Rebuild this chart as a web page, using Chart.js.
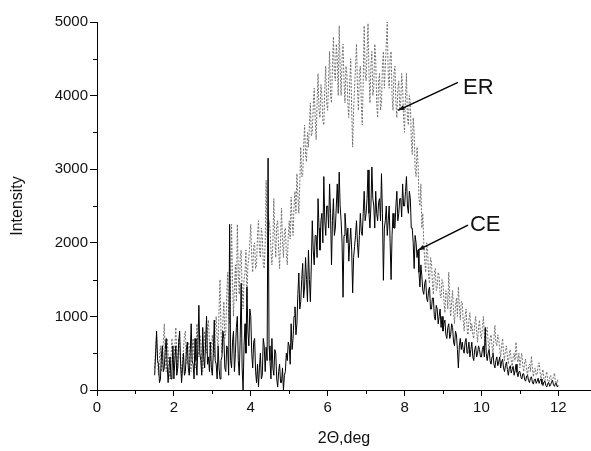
<!DOCTYPE html>
<html>
<head>
<meta charset="utf-8">
<script src="https://cdn.jsdelivr.net/npm/chart.js@4/dist/chart.umd.min.js"></script>
<style>
  html, body { margin: 0; padding: 0; background: #fff; }
  #wrap { width: 591px; height: 451px; }
</style>
</head>
<body>
<div id="wrap"><canvas id="xrdChart"></canvas></div>
<script>
// 2-theta sampling grid (deg)
const twoThetaStart = 1.5;
const twoThetaStep = 0.025;

// ER intensity (grey dotted trace), 20 points per 0.5 deg
const erIntensity = [
    300, 550, 750, 400, 200, 450, 600, 250, 350, 650,
    900, 500, 250, 700, 500, 300, 150, 450, 700, 350,
    400, 600, 850, 500, 300, 700, 650, 350, 200, 450,
    550, 750, 800, 400, 350, 650, 600, 300, 250, 550,
    700, 450, 300, 600, 900, 550, 450, 750, 650, 350,
    250, 500, 800, 600, 500, 850, 950, 650, 400, 600,
    750, 500, 450, 850, 1000, 700, 600, 1100, 1500, 800,
    500, 950, 1200, 700, 800, 1300, 1600, 1000, 900, 1400,
    2250, 1500, 1000, 1400, 1700, 1200, 2250, 1600, 1300, 1800,
    1900, 1400, 1100, 1500, 1600, 1900, 1200, 1700, 1800, 2000,
    2250, 1800, 1600, 1950, 2000, 1650, 1700, 2100, 2300, 1900,
    1800, 2200, 2100, 1700, 1650, 2000, 2850, 2100, 1900, 2300,
    2200, 1900, 1700, 2000, 2600, 2100, 1800, 2250, 2300, 1900,
    1650, 2050, 2470, 2000, 1800, 2150, 2200, 1850, 1700, 2100,
    2300, 2050, 2620, 2300, 2100, 2500, 2700, 2400, 2940, 2650,
    2400, 2800, 3300, 2900, 2900, 3300, 3600, 3200, 3100, 3500,
    3300, 3600, 3900, 3450, 3500, 3850, 4100, 3700, 3400, 3900,
    4300, 3800, 3700, 4150, 4000, 3650, 3600, 4100, 4400, 3900,
    3800, 4200, 4600, 4000, 3900, 4400, 4800, 4300, 4200, 4700,
    4500, 4000, 4950, 4400, 4000, 4500, 4700, 4200, 3900, 4400,
    4300, 3900, 3700, 4200, 4500, 3800, 3300, 3800, 4100, 4400,
    4700, 4100, 3800, 4300, 4400, 3900, 3600, 4200, 4950, 4300,
    4200, 4600, 4980, 4300, 3900, 4400, 4600, 4000, 4100, 4700,
    4500, 3900, 3700, 4200, 4300, 3800, 3900, 4400, 4600, 4100,
    4400, 4700, 5000, 4300, 4100, 4500, 4600, 4000, 3800, 4300,
    4400, 3900, 3700, 4100, 4200, 3800, 3900, 4300, 4100, 3700,
    3500, 4000, 4300, 3700, 3600, 4000, 3900, 3400, 3200, 3700,
    3500, 3000, 2900, 3300, 3100, 2600, 2500, 2800, 2200, 2400,
    2000, 1750, 1600, 2000, 1900, 1550, 1450, 1800, 1750, 1450,
    1300, 1600, 1650, 1350, 1400, 1600, 1550, 1300, 1250, 1500,
    1450, 1200, 1050, 1350, 1300, 1100, 1600, 1250, 1000, 1200,
    1350, 1050, 900, 1150, 1250, 1000, 1400, 1150, 950, 1200,
    1200, 950, 800, 1000, 1100, 850, 750, 950, 1050, 800,
    900, 750, 700, 900, 1000, 800, 650, 850, 950, 750,
    700, 850, 1000, 750, 600, 800, 850, 650, 550, 700,
    750, 600, 500, 700, 880, 650, 600, 750, 700, 550,
    450, 600, 700, 500, 400, 550, 600, 450, 350, 500,
    550, 400, 300, 450, 500, 400, 650, 450, 380, 500,
    300, 420, 500, 330, 250, 380, 420, 280, 200, 320,
    350, 250, 460, 300, 180, 280, 300, 200, 220, 330,
    370, 250, 150, 220, 280, 150, 100, 200, 250, 130,
    80, 170, 200, 110, 120, 190, 230, 100, 60, 140,
    100
];

// CE intensity (black solid trace), 20 points per 0.5 deg
const ceIntensity = [
    200, 500, 800, 400, 350, 100, 150, 450, 600, 250,
    300, 550, 700, 350, 100, 300, 450, 150, 250, 600,
    150, 400, 600, 200, 300, 650, 800, 350, 100, 300,
    500, 200, 250, 550, 650, 300, 200, 500, 900, 400,
    350, 150, 700, 400, 200, 600, 1150, 500, 400, 200,
    850, 450, 300, 650, 1000, 350, 450, 250, 650, 300,
    200, 500, 950, 400, 350, 150, 600, 300, 150, 400,
    450, 800, 700, 300, 250, 600, 550, 200, 2250, 400,
    300, 650, 800, 250, 500, 850, 1000, 400, 200, 700,
    1450, 300, 0, 600, 900, 500, 1400, 800, 600, 1100,
    1000, 500, 300, 650, 700, 250, 100, 350, 40, 300,
    500, 150, 200, 700, 600, 250, 580, 400, 3150, 600,
    400, 150, 700, 300, 200, 550, 500, 150, 40, 250,
    350, 100, 100, 300, 0, 200, 250, 500, 400, 650,
    600, 350, 900, 550, 700, 1000, 1130, 750, 900, 1300,
    1590, 1100, 1200, 1500, 1720, 1250, 1400, 1800, 1500, 1200,
    1900, 1500, 1200, 1700, 2300, 1900, 1700, 2100, 2100, 1800,
    2600, 2200, 1900, 2300, 2400, 2000, 2900, 2300, 2100, 2500,
    2500, 2200, 2800, 2400, 1700, 2300, 2600, 2100, 2200, 2500,
    2800, 2400, 2960, 2500, 2300, 2000, 1260, 2100, 2400, 2200,
    2000, 2200, 1750, 2000, 2200, 1900, 1320, 1800, 1950, 2100,
    2300, 2000, 1800, 2100, 2400, 2150, 2100, 2400, 2700, 2300,
    2400, 2600, 2990, 2400, 2200, 2500, 3030, 2600, 2500, 2200,
    2700, 2400, 2300, 2550, 2600, 2300, 2940, 2400, 1490, 2200,
    2300, 2500, 2100, 2300, 2500, 2000, 1500, 2100, 2400, 2200,
    2200, 2500, 2700, 2300, 2400, 2600, 2600, 2350, 2800, 2500,
    2500, 2700, 2900, 2500, 2400, 2700, 2600, 2200, 2200, 2000,
    1650, 2100, 2000, 1800, 1900, 1600, 1400, 1700, 1550, 1350,
    1300, 1450, 1500, 1250, 1200, 1350, 1400, 1100, 1100, 1250,
    1250, 1000, 950, 1150, 1100, 900, 1000, 1100, 850, 1000,
    800, 900, 950, 750, 700, 850, 900, 700, 750, 900,
    850, 650, 600, 800, 750, 550, 300, 600, 700, 550,
    650, 550, 500, 650, 700, 500, 550, 650, 450, 550,
    650, 450, 400, 550, 600, 450, 500, 600, 550, 450,
    450, 550, 600, 450, 850, 500, 400, 500, 550, 400,
    350, 450, 500, 350, 300, 400, 450, 330, 380, 450,
    300, 380, 420, 300, 250, 330, 380, 280, 200, 300,
    330, 230, 280, 320, 200, 260, 350, 240, 180, 250,
    250, 180, 150, 220, 220, 140, 120, 190, 200, 130,
    100, 160, 180, 110, 80, 140, 150, 90, 120, 160,
    90, 130, 150, 80, 60, 110, 120, 60, 40, 90,
    100, 50, 70, 110, 130, 70, 50, 90, 90, 40,
    60
];

// axis ticks
const xTickValues = [0, 1, 2, 3, 4, 5, 6, 7, 8, 9, 10, 11, 12];
const yTickValues = [0, 500, 1000, 1500, 2000, 2500, 3000, 3500, 4000, 4500, 5000];

// curve labels: [text, labelX, labelY, lineFromX, lineFromY, arrowToX, arrowToY]
const curveLabels = [
    ['ER', 9.52, 4110, 9.39, 4180, 7.83, 3800],
    ['CE', 9.70, 2240, 9.65, 2240, 8.35, 1900],
];

const toPoints = (values) => values.map((v, i) => ({
    x: +(twoThetaStart + i * twoThetaStep).toFixed(3),
    y: v,
}));

const fontFamily = '"Liberation Sans", Arial, sans-serif';

// minor ticks + curve labels
const extrasPlugin = {
    id: 'extras',
    afterDraw(chart) {
        const ctx = chart.ctx;
        const xs = chart.scales.x;
        const ys = chart.scales.y;
        ctx.save();
        ctx.strokeStyle = '#000';
        ctx.lineWidth = 1;
        ctx.beginPath();
        xTickValues.filter(v => v % 2 !== 0).forEach(v => {
            const px = Math.round(xs.getPixelForValue(v)) + 0.5;
            ctx.moveTo(px, ys.bottom);
            ctx.lineTo(px, ys.bottom + 4);
        });
        yTickValues.filter(v => v % 1000 !== 0).forEach(v => {
            const py = Math.round(ys.getPixelForValue(v)) + 0.5;
            ctx.moveTo(xs.left - 4, py);
            ctx.lineTo(xs.left, py);
        });
        ctx.stroke();

        ctx.fillStyle = '#111';
        ctx.font = '22px ' + fontFamily;
        ctx.textBaseline = 'middle';
        curveLabels.forEach(([text, lx, ly, fx, fy, tx, ty]) => {
            ctx.fillText(text, xs.getPixelForValue(lx), ys.getPixelForValue(ly));
            const x1 = xs.getPixelForValue(fx), y1 = ys.getPixelForValue(fy);
            const x2 = xs.getPixelForValue(tx), y2 = ys.getPixelForValue(ty);
            ctx.beginPath();
            ctx.lineWidth = 1.5;
            ctx.moveTo(x1, y1);
            ctx.lineTo(x2, y2);
            ctx.stroke();
            // small arrow head
            const a = Math.atan2(y2 - y1, x2 - x1);
            ctx.beginPath();
            ctx.moveTo(x2, y2);
            ctx.lineTo(x2 - 7 * Math.cos(a - 0.35), y2 - 7 * Math.sin(a - 0.35));
            ctx.lineTo(x2 - 7 * Math.cos(a + 0.35), y2 - 7 * Math.sin(a + 0.35));
            ctx.closePath();
            ctx.fill();
        });
        ctx.restore();
    },
};

new Chart(document.getElementById('xrdChart'), {
    type: 'line',
    data: {
        datasets: [{
            label: 'CE',
            data: toPoints(ceIntensity),
            borderColor: '#000',
            borderWidth: 1,
            pointRadius: 0,
            tension: 0,
        }, {
            label: 'ER',
            data: toPoints(erIntensity),
            borderColor: '#6e6e6e',
            borderWidth: 1,
            borderDash: [2, 1.5],
            pointRadius: 0,
            tension: 0,
        }],
    },
    options: {
        responsive: true,
        maintainAspectRatio: false,
        animation: false,
        events: [],
        layout: {
            padding: { top: 22, right: 0, left: 0, bottom: 0 },
        },
        plugins: {
            legend: { display: false },
            tooltip: { enabled: false },
        },
        scales: {
            x: {
                type: 'linear',
                min: 0,
                max: 12.85,
                afterBuildTicks: (scale) => {
                    scale.ticks = xTickValues.map(v => ({ value: v }));
                },
                afterFit: (scale) => { scale.height = 61; },
                ticks: {
                    autoSkip: false,
                    maxRotation: 0,
                    padding: 3,
                    color: '#111',
                    font: { family: fontFamily, size: 15 },
                    callback: (v) => (v % 2 === 0 ? v : ''),
                },
                grid: {
                    drawOnChartArea: false,
                    tickLength: 6,
                    tickColor: (c) => (c.tick && c.tick.value % 2 === 0 ? '#000' : 'rgba(0,0,0,0)'),
                },
                border: { display: true, color: '#000', width: 1 },
                title: {
                    display: true,
                    text: '2Θ,deg',
                    color: '#111',
                    font: { family: fontFamily, size: 16 },
                    padding: { top: 0, bottom: 3 },
                },
            },
            y: {
                min: 0,
                max: 5000,
                afterBuildTicks: (scale) => {
                    scale.ticks = yTickValues.map(v => ({ value: v }));
                },
                afterFit: (scale) => { scale.width = 97; },
                ticks: {
                    autoSkip: false,
                    padding: 2,
                    color: '#111',
                    font: { family: fontFamily, size: 15 },
                    callback: (v) => (v % 1000 === 0 ? v : ''),
                },
                grid: {
                    drawOnChartArea: false,
                    tickLength: 7,
                    tickColor: (c) => (c.tick && c.tick.value % 1000 === 0 ? '#000' : 'rgba(0,0,0,0)'),
                },
                border: { display: true, color: '#000', width: 1 },
                title: {
                    display: true,
                    text: 'Intensity',
                    color: '#111',
                    font: { family: fontFamily, size: 16 },
                    padding: { top: 8, bottom: 0 },
                },
            },
        },
    },
    plugins: [extrasPlugin],
});
</script>
</body>
</html>
